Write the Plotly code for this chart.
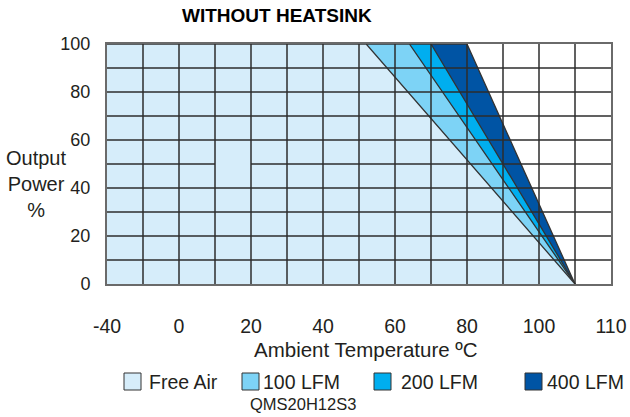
import plotly.graph_objects as go

# ---------------- data ----------------
chart_title = "WITHOUT HEATSINK"
model_name = "QMS20H12S3"
x_title = "Ambient Temperature ºC"
y_title = "Output<br>Power<br>%"

x_tick_temps = [-40, 0, 20, 40, 60, 80, 100, 110]
x_tick_labels = ["-40", "0", "20", "40", "60", "80", "100", "110"]
y_tick_values = [0, 20, 40, 60, 80, 100]

series_names = ["Free Air", "100 LFM", "200 LFM", "400 LFM"]
free_air_temp = [-40, 52, 105]
free_air_power = [100, 100, 0]
lfm100_temp = [-40, 64, 105]
lfm100_power = [100, 100, 0]
lfm200_temp = [-40, 70, 105]
lfm200_power = [100, 100, 0]
lfm400_temp = [-40, 80, 105]
lfm400_power = [100, 100, 0]

series_colors = ["#d6edfa", "#7dd3f6", "#00aeef", "#0054a4"]

# grid: one cell per 20 °C below 0, 10 °C from 0 to 100, 5 °C above 100
grid_temps = [-40, -20, 0, 10, 20, 30, 40, 50, 60, 70, 80, 90, 100, 105, 110]
grid_power = [10, 20, 30, 40, 50, 60, 70, 80, 90]
grid_gaps = [(50, 10, 20)]  # (power row, from temp, to temp) with no line


def axis_pos(t):
    """Map a temperature onto the chart's piecewise grid axis."""
    if t <= 0:
        return 2 + t / 20.0
    if t <= 100:
        return 2 + t / 10.0
    return 12 + (t - 100) / 5.0


FONT = "Liberation Sans, Arial, sans-serif"
TXT = "#231f20"
W, H = 630, 417
L, R, T, B = 107, 19, 44, 133
PW, PH = W - L - R, H - T - B


def px(x):
    return (x - L) / PW


def py(y):
    return (H - B - y) / PH


fig = go.Figure()

series = [
    (series_names[3], lfm400_temp, lfm400_power, series_colors[3]),
    (series_names[2], lfm200_temp, lfm200_power, series_colors[2]),
    (series_names[1], lfm100_temp, lfm100_power, series_colors[1]),
    (series_names[0], free_air_temp, free_air_power, series_colors[0]),
]
for name, temps, power, col in series:
    fig.add_trace(go.Scatter(
        x=[axis_pos(t) for t in temps], y=power, name=name,
        mode="lines", fill="tozeroy", fillcolor=col,
        line=dict(color="#333333", width=1.3), showlegend=False,
        hoverinfo="skip"))

shapes = []
grid_line = dict(color="#2d2d2d", width=1.5)
for t in grid_temps[1:-1]:
    xp = axis_pos(t)
    shapes.append(dict(type="line", xref="x", yref="y", x0=xp, x1=xp,
                       y0=0, y1=100, line=grid_line, layer="above"))
for p in grid_power:
    segs = [(grid_temps[0], grid_temps[-1])]
    for gp, g0, g1 in grid_gaps:
        if gp == p:
            new = []
            for a, b in segs:
                if a < g0:
                    new.append((a, g0))
                if b > g1:
                    new.append((g1, b))
            segs = new
    for a, b in segs:
        shapes.append(dict(type="line", xref="x", yref="y",
                           x0=axis_pos(a), x1=axis_pos(b), y0=p, y1=p,
                           line=grid_line, layer="above"))

# legend (squares + labels)
legend_box_x = [124, 242, 374, 525]
legend_text_x = [147, 261, 399, 545]
legend_y0, legend_y1 = 373, 390
legend_labels = [series_names[0], series_names[1], series_names[2], series_names[3]]
annotations = []
for i, lab in enumerate(legend_labels):
    x0 = legend_box_x[i]
    shapes.append(dict(type="rect", xref="paper", yref="paper",
                       x0=px(x0), x1=px(x0 + 17), y0=py(legend_y1), y1=py(legend_y0),
                       fillcolor=series_colors[i], line=dict(color="#333333", width=1)))
    annotations.append(dict(text=lab, x=px(legend_text_x[i]), y=py((legend_y0 + legend_y1) / 2),
                            xref="paper", yref="paper", xanchor="left", yanchor="middle",
                            showarrow=False, font=dict(family=FONT, size=19.5, color=TXT)))

annotations.append(dict(text=model_name, x=px(303), y=py(404), xref="paper", yref="paper",
                        xanchor="center", yanchor="middle", showarrow=False,
                        font=dict(family=FONT, size=16.5, color=TXT)))
annotations.append(dict(text=x_title, x=px(366), y=py(349), xref="paper", yref="paper",
                        xanchor="center", yanchor="middle", showarrow=False,
                        font=dict(family=FONT, size=20.5, color=TXT)))
annotations.append(dict(text=y_title, x=px(36), y=py(184), xref="paper", yref="paper",
                        xanchor="center", yanchor="middle", showarrow=False, align="center",
                        font=dict(family=FONT, size=20, color=TXT)))
annotations.append(dict(text="<b>" + chart_title + "</b>", x=px(277), y=py(16),
                        xref="paper", yref="paper", xanchor="center", yanchor="middle",
                        showarrow=False, font=dict(family=FONT, size=19, color="#000000")))

fig.update_layout(
    width=W, height=H,
    margin=dict(l=L, r=R, t=T, b=B, pad=0, autoexpand=False),
    paper_bgcolor="white", plot_bgcolor="white",
    showlegend=False,
    shapes=shapes, annotations=annotations,
    xaxis=dict(range=[axis_pos(grid_temps[0]), axis_pos(grid_temps[-1])],
               tickvals=[axis_pos(t) for t in x_tick_temps], ticktext=x_tick_labels,
               showgrid=False, zeroline=False, ticks="outside", ticklen=24,
               tickcolor="rgba(0,0,0,0)", automargin=False,
               ticklabeloverflow="allow",
               tickfont=dict(family=FONT, size=19.5, color=TXT),
               showline=True, mirror=True, linecolor="#6a6a6a", linewidth=2,
               layer="above traces", fixedrange=True),
    yaxis=dict(range=[0, 100], tickvals=y_tick_values, automargin=False,
               showgrid=False, zeroline=False, ticks="outside", ticklen=11,
               tickcolor="rgba(0,0,0,0)",
               tickfont=dict(family=FONT, size=18, color=TXT),
               showline=True, mirror=True, linecolor="#6a6a6a", linewidth=2,
               layer="above traces", fixedrange=True),
)

fig.write_html("out.html")
